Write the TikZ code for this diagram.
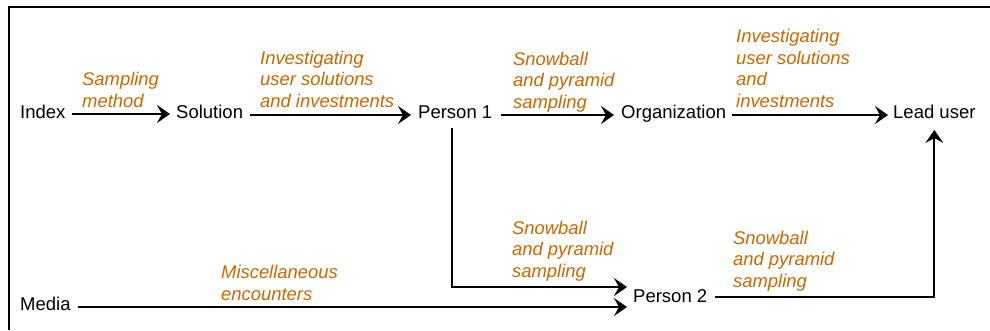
\documentclass[tikz,border=0pt]{standalone}
\usepackage{fontspec}
\setmainfont{Liberation Sans}
\usetikzlibrary{arrows.meta,calc}
\definecolor{lblorange}{RGB}{204,102,0}
\begin{document}
\begin{tikzpicture}[x=1pt,y=-1pt,
  ent/.style={inner sep=0pt, anchor=base west, font=\fontsize{18.5}{22}\selectfont},
  lbl/.style={inner sep=0pt, anchor=base west, align=left, text=lblorange, font=\fontsize{18.4}{21.5}\selectfont\itshape},
  conn/.style={line width=2pt, -{Stealth[length=13pt,width=18pt,inset=5pt]}},
  frameline/.style={line width=1.3pt}
]
\useasboundingbox (0,0) rectangle (990,330);
\draw[frameline] (9,330) -- (9,7) -- (990,7);

\node[ent] (index) at (20,118) {Index};
\node[ent] (sol) at (176,118) {Solution};
\node[ent] (p1) at (418,118) {Person 1};
\node[ent] (org) at (621,118) {Organization};
\node[ent] (lead) at (893,118) {Lead user};
\node[ent] (media) at (20,310) {Media};
\node[ent] (p2) at (633,302) {Person 2};

\node[lbl] (l1) at (82,107) {Sampling\\method};
\node[lbl] (l2) at (260,107) {Investigating\\user solutions\\and investments};
\node[lbl] (l3) at (513,108) {Snowball\\and pyramid\\sampling};
\node[lbl] (l4) at (736,107) {Investigating\\user solutions\\and\\investments};
\node[lbl] (l5) at (512,277) {Snowball\\and pyramid\\sampling};
\node[lbl] (l6) at (733,287) {Snowball\\and pyramid\\sampling};
\node[lbl] (l7) at (221,300) {Miscellaneous\\encounters};

\draw[conn] ($(index.base east)+(6,-4)$) -- ($(sol.base west)+(-6,-4)$);
\draw[conn] ($(sol.base east)+(7,-3)$) -- ($(p1.base west)+(-7,-3)$);
\draw[conn] ($(p1.base east)+(9,-3)$) -- ($(org.base west)+(-7,-3)$);
\draw[conn] ($(org.base east)+(6,-3)$) -- ($(lead.base west)+(-5,-3)$);
\draw[conn] ($(p1.base)+(-3,10)$) |- ($(p2.base west)+(-6,-15)$);
\draw[conn] ($(media.base east)+(7,-3)$) -- ($(p2.base west)+(-6,5)$);
\draw[conn] ($(p2.base east)+(8,-5)$) -| ($(lead.base)+(0,12)$);
\end{tikzpicture}
\end{document}
